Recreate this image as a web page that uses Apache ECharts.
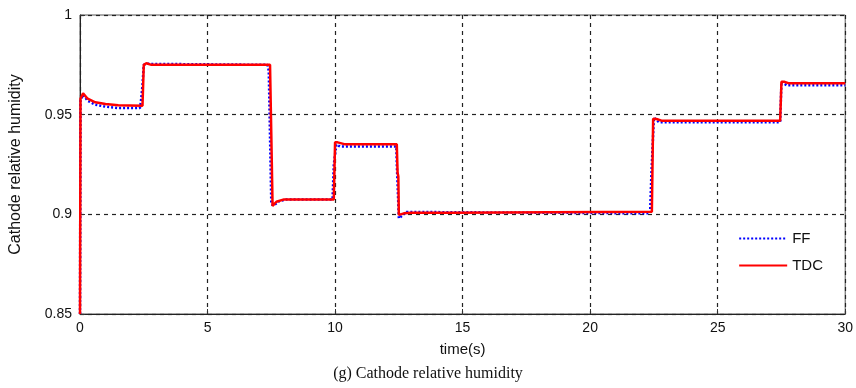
<!DOCTYPE html>
<html>
<head>
<meta charset="utf-8">
<script src="https://cdn.jsdelivr.net/npm/echarts@6/dist/echarts.min.js"></script>
<style>
  html, body { margin: 0; padding: 0; background: #fff; }
  #chart { width: 856px; height: 388px; }
</style>
</head>
<body>
<div id="chart"></div>
<script>
// time (s) and cathode relative humidity
var ffTime = [0, 0.02, 0.12, 0.3, 0.6, 1.0, 1.5, 2.35, 2.4, 2.45, 2.5, 2.6, 7.35, 7.4, 7.5, 7.6, 7.8, 8.1, 9.9, 9.95, 10.05, 10.2, 12.4, 12.42, 12.5, 12.6, 12.8, 22.35, 22.4, 22.5, 22.7, 27.45, 27.5, 27.7, 30];
var ffHumidity = [0.85, 0.957, 0.960, 0.957, 0.955, 0.954, 0.9533, 0.9533, 0.958, 0.965, 0.975, 0.9755, 0.975, 0.972, 0.905, 0.9045, 0.9065, 0.9075, 0.9075, 0.925, 0.935, 0.934, 0.934, 0.925, 0.898, 0.899, 0.9012, 0.9005, 0.920, 0.9485, 0.9462, 0.9462, 0.9665, 0.9647, 0.9647];

var tdcTime = [0, 0.02, 0.12, 0.3, 0.6, 1.0, 1.5, 2.45, 2.5, 2.6, 2.8, 7.45, 7.5, 7.55, 7.7, 8.0, 9.95, 10.0, 10.1, 10.4, 12.42, 12.45, 12.48, 12.5, 12.7, 13.0, 14.5, 14.55, 22.42, 22.47, 22.6, 22.8, 27.45, 27.5, 27.6, 27.8, 30];
var tdcHumidity = [0.85, 0.958, 0.9607, 0.958, 0.9562, 0.9553, 0.9547, 0.9545, 0.975, 0.9758, 0.975, 0.975, 0.940, 0.9042, 0.9063, 0.9075, 0.9075, 0.9361, 0.9361, 0.9351, 0.9351, 0.921, 0.919, 0.8997, 0.9005, 0.9008, 0.9008, 0.9012, 0.9013, 0.948, 0.9478, 0.947, 0.947, 0.9665, 0.9665, 0.9657, 0.9657];

var xTicks = { min: 0, max: 30, step: 5 };
var yTicks = { min: 0.85, max: 1, step: 0.05 };

function pairs(xs, ys) {
  return xs.map(function (x, i) { return [x, ys[i]]; });
}

var chart = echarts.init(document.getElementById('chart'), null, { renderer: 'canvas' });

var labelFont = { fontFamily: 'Liberation Sans', fontSize: 14, color: '#111' };

var option = {
  backgroundColor: '#fff',
  animation: false,
  grid: {
    left: 80, right: 10, top: 15, bottom: 74,
    show: true, borderColor: '#555', borderWidth: 1
  },
  legend: {
    orient: 'vertical',
    right: 28,
    top: 226,
    itemWidth: 48,
    itemHeight: 10,
    itemGap: 12,
    itemStyle: { opacity: 0 },
    textStyle: { fontFamily: 'Liberation Sans', fontSize: 15, color: '#111' },
    data: ['FF', 'TDC']
  },
  xAxis: {
    type: 'value',
    min: xTicks.min, max: xTicks.max, interval: xTicks.step,
    name: 'time(s)',
    nameLocation: 'middle',
    nameGap: 28,
    nameTextStyle: { fontFamily: 'Liberation Sans', fontSize: 15, color: '#111' },
    axisLine: { show: true, lineStyle: { color: '#222', width: 1 } },
    axisTick: { show: true, inside: true, length: 5, lineStyle: { color: '#333' } },
    axisLabel: Object.assign({ margin: 7 }, labelFont),
    splitLine: { show: true, lineStyle: { color: '#222', type: [4, 4], width: 1.2 } }
  },
  yAxis: {
    type: 'value',
    min: yTicks.min, max: yTicks.max, interval: yTicks.step,
    name: 'Cathode relative humidity',
    nameLocation: 'middle',
    nameGap: 56,
    nameTextStyle: { fontFamily: 'Liberation Sans', fontSize: 16, color: '#111' },
    axisLine: { show: true, lineStyle: { color: '#222', width: 1 } },
    axisTick: { show: true, inside: true, length: 5, lineStyle: { color: '#333' } },
    axisLabel: Object.assign({ margin: 8, formatter: function (v) { return +v.toFixed(2) + ''; } }, labelFont),
    splitLine: { show: true, lineStyle: { color: '#222', type: [4, 4], width: 1.2 } }
  },
  graphic: [{
    type: 'text',
    left: 'center',
    top: 366,
    style: {
      text: '(g) Cathode relative humidity',
      font: '16px "Liberation Serif"',
      fill: '#111'
    }
  }],
  series: [{
    name: 'FF',
    type: 'line',
    symbol: 'none',
    data: pairs(ffTime, ffHumidity),
    lineStyle: { color: '#0000ff', width: 2.5, type: [2, 2] },
    itemStyle: { color: '#0000ff' },
    z: 2
  }, {
    name: 'TDC',
    type: 'line',
    symbol: 'none',
    data: pairs(tdcTime, tdcHumidity),
    lineStyle: { color: '#ff0000', width: 2.5 },
    itemStyle: { color: '#ff0000' },
    z: 3
  }]
};

chart.setOption(option);
</script>
</body>
</html>
